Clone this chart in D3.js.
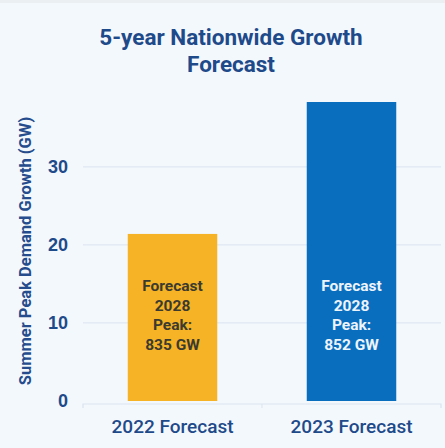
<!DOCTYPE html>
<html>
<head>
<meta charset="utf-8">
<script src="https://cdn.jsdelivr.net/npm/d3@7.9.0/dist/d3.min.js"></script>
<style>
  html, body { margin: 0; padding: 0; background: #f3f8fd; }
  body { width: 445px; height: 448px; overflow: hidden; border-top: 3px solid #eceff2; box-sizing: border-box; }
  svg { display: block; font-family: Roboto, "Noto Sans", sans-serif; }
</style>
</head>
<body>
<svg id="chart" width="445" height="445"></svg>
<script>
// chart data
const categories = ['2022 Forecast', '2023 Forecast'];
const growthValues = [21.4, 38.3];
const barLabels = [
  ['Forecast', '2028', 'Peak:', '835 GW'],
  ['Forecast', '2028', 'Peak:', '852 GW']
];
const yTicks = [0, 10, 20, 30];
const barColors = ['#f5b325', '#0a6ebf'];
const labelColors = ['#3b3a30', '#eef4fb'];

const svg = d3.select('#chart');
const navy = '#1f4a8a';

const x = d3.scaleBand()
  .domain(categories)
  .range([83, 441])
  .paddingInner(0.5)
  .paddingOuter(0.25);

const y = d3.scaleLinear()
  .domain([0, 38.3])
  .range([398, 99]);

// title
svg.append('text')
  .attr('x', 231).attr('y', 42)
  .attr('text-anchor', 'middle')
  .attr('font-size', 22.5).attr('font-weight', 700)
  .attr('fill', navy)
  .selectAll('tspan')
  .data(['5-year Nationwide Growth', 'Forecast'])
  .join('tspan')
  .attr('x', 231)
  .attr('dy', (d, i) => i === 0 ? 0 : 27)
  .text(d => d);

// gridlines
svg.append('g')
  .selectAll('line')
  .data(yTicks.filter(d => d > 0))
  .join('line')
  .attr('x1', 83).attr('x2', 441)
  .attr('y1', d => y(d)).attr('y2', d => y(d))
  .attr('stroke', '#dfe7f1').attr('stroke-width', 1.2);

// y axis labels
const yAxis = svg.append('g')
  .attr('transform', 'translate(83,0)')
  .call(d3.axisLeft(y).tickValues(yTicks).tickSize(0).tickPadding(15));
yAxis.select('.domain').remove();
yAxis.selectAll('text')
  .attr('font-family', 'Liberation Sans, Arial, sans-serif')
  .attr('font-size', 18).attr('font-weight', 700)
  .attr('fill', navy);

// y axis title
svg.append('text')
  .attr('transform', 'translate(31,248) rotate(-90)')
  .attr('text-anchor', 'middle')
  .attr('font-size', 16.5).attr('font-weight', 700)
  .attr('fill', '#254c8c')
  .text('Summer Peak Demand Growth (GW)');

// bars
svg.append('g')
  .selectAll('rect')
  .data(growthValues)
  .join('rect')
  .attr('x', (d, i) => x(categories[i]))
  .attr('y', d => y(d))
  .attr('width', x.bandwidth())
  .attr('height', d => y(0) - y(d))
  .attr('fill', (d, i) => barColors[i]);

// bar labels
barLabels.forEach((lines, i) => {
  const cx = x(categories[i]) + x.bandwidth() / 2;
  svg.append('text')
    .attr('text-anchor', 'middle')
    .attr('font-size', 15.5).attr('font-weight', 700)
    .attr('fill', labelColors[i])
    .selectAll('tspan')
    .data(lines)
    .join('tspan')
    .attr('x', cx)
    .attr('y', (d, j) => y(11) - 24 + j * 19.5)
    .text(d => d);
});

// x axis
const xAxis = svg.append('g')
  .attr('transform', `translate(0,${y(0) + 3})`)
  .call(d3.axisBottom(x).tickSize(0).tickPadding(16));
xAxis.select('.domain').attr('stroke', '#dbe3ee').attr('stroke-width', 1.2)
  .attr('d', 'M83,4V0H441V4');
xAxis.append('line')
  .attr('x1', 262).attr('x2', 262).attr('y1', 0).attr('y2', 4)
  .attr('stroke', '#dbe3ee');
xAxis.selectAll('text')
  .attr('font-family', 'Roboto, sans-serif')
  .attr('font-size', 19).attr('font-weight', 500)
  .attr('fill', navy);
</script>
</body>
</html>
